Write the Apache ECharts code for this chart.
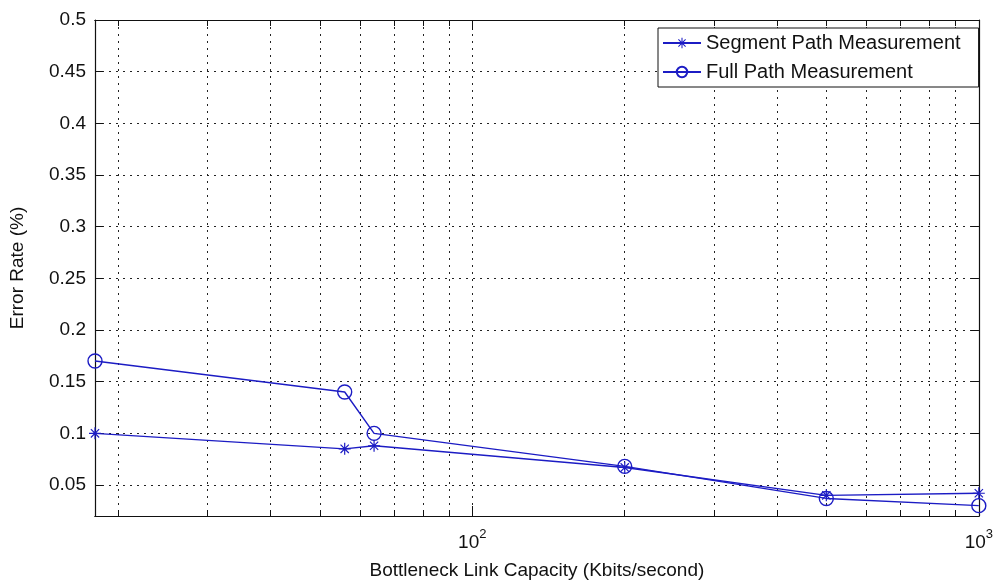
<!DOCTYPE html>
<html>
<head>
<meta charset="utf-8">
<script src="https://cdn.jsdelivr.net/npm/echarts@6/dist/echarts.min.js"></script>
<style>
  html, body { margin: 0; padding: 0; background: #fff; }
  #chart { width: 996px; height: 585px; }
</style>
</head>
<body>
<div id="chart"></div>
<script>
// Link capacities (Kbits/second) and measured error rates (%)
const capacities = [18, 56, 64, 200, 500, 1000];
const segmentPath = [0.100, 0.085, 0.088, 0.067, 0.040, 0.042];
const fullPath = [0.170, 0.140, 0.100, 0.068, 0.037, 0.030];

// Axis ticks
const xMajorTicks = [100, 1000];
const xMinorTicks = [20, 30, 40, 50, 60, 70, 80, 90, 200, 300, 400, 500, 600, 700, 800, 900];
const yTicks = [0.05, 0.1, 0.15, 0.2, 0.25, 0.3, 0.35, 0.4, 0.45, 0.5];
const yTickLabels = ['0.05', '0.1', '0.15', '0.2', '0.25', '0.3', '0.35', '0.4', '0.45', '0.5'];

const FONT = 'Liberation Sans';
const BLUE = '#1c1cc4';
const INK = '#111';
const ASTERISK = 'path://M45 0L55 0L55 100L45 100Z M0 45L100 45L100 55L0 55Z M12 19L19 12L88 81L81 88Z M81 12L88 19L19 88L12 81Z';

const gridLine = { show: true, lineStyle: { color: '#222', width: 1, type: [2, 5] } };

function xAxisDef(pos, values, tickLen, labels, grid) {
  return {
    type: 'log', logBase: 10, min: 18, max: 1000, position: pos,
    axisLine: { show: true, onZero: false, lineStyle: { color: INK, width: 1.2 } },
    axisTick: { show: true, inside: true, length: tickLen, customValues: values, lineStyle: { color: INK } },
    axisLabel: labels ? {
      show: true, customValues: values, margin: 12,
      formatter: v => '{b|10}{e|' + Math.round(Math.log10(v)) + '}',
      rich: {
        b: { fontFamily: FONT, fontSize: 19, color: INK, verticalAlign: 'bottom', lineHeight: 24 },
        e: { fontFamily: FONT, fontSize: 13, color: INK, verticalAlign: 'top', lineHeight: 24 }
      }
    } : { show: false },
    splitLine: grid ? gridLine : { show: false },
    minorTick: { show: false }, minorSplitLine: { show: false }
  };
}

function yAxisDef(pos, labels) {
  return {
    type: 'value', min: 0.02, max: 0.5, position: pos,
    axisLine: { show: true, onZero: false, lineStyle: { color: INK, width: 1.2 } },
    axisTick: { show: true, inside: true, length: 8, customValues: yTicks, lineStyle: { color: INK } },
    axisLabel: labels ? {
      show: true, customValues: yTicks, margin: 9,
      fontFamily: FONT, fontSize: 19, color: INK,
      formatter: v => yTickLabels[yTicks.findIndex(t => Math.abs(t - v) < 1e-9)] || ''
    } : { show: false },
    splitLine: labels ? gridLine : { show: false }
  };
}

const chart = echarts.init(document.getElementById('chart'), null, { renderer: 'canvas' });

const xBottomMajor = xAxisDef('bottom', xMajorTicks, 10, true, true);
xBottomMajor.name = 'Bottleneck Link Capacity (Kbits/second)';
xBottomMajor.nameLocation = 'middle';
xBottomMajor.nameGap = 45;
xBottomMajor.nameTextStyle = { fontFamily: FONT, fontSize: 19, color: INK };

const yLeft = yAxisDef('left', true);
yLeft.name = 'Error Rate (%)';
yLeft.nameLocation = 'middle';
yLeft.nameGap = 68;
yLeft.nameTextStyle = { fontFamily: FONT, fontSize: 19, color: INK };

chart.setOption({
  animation: false,
  backgroundColor: '#fff',
  grid: { left: 90, right: 11, top: 20, bottom: 65, containLabel: false },
  xAxis: [
    xBottomMajor,
    xAxisDef('bottom', xMinorTicks, 6, false, true),
    xAxisDef('top', xMajorTicks, 10, false, false),
    xAxisDef('top', xMinorTicks, 6, false, false)
  ],
  yAxis: [yLeft, yAxisDef('right', false)],
  legend: {
    orient: 'vertical', left: 658, top: 28,
    backgroundColor: '#fff', borderColor: INK, borderWidth: 1,
    padding: [5, 18, 5, 4], itemGap: 9, itemWidth: 38, itemHeight: 13,
    textStyle: { fontFamily: FONT, fontSize: 20, color: INK },
    data: ['Segment Path Measurement', 'Full Path Measurement']
  },
  series: [
    {
      name: 'Segment Path Measurement', type: 'line',
      data: capacities.map((c, i) => [c, segmentPath[i]]),
      symbol: ASTERISK, symbolSize: 12,
      lineStyle: { color: BLUE, width: 1.4 },
      itemStyle: { color: BLUE, borderWidth: 0 },
      z: 3
    },
    {
      name: 'Full Path Measurement', type: 'line',
      data: capacities.map((c, i) => [c, fullPath[i]]),
      symbol: 'circle', symbolSize: 14,
      lineStyle: { color: BLUE, width: 1.4 },
      itemStyle: { color: 'rgba(255,255,255,0)', borderColor: BLUE, borderWidth: 1.4 },
      z: 3
    }
  ]
});
</script>
</body>
</html>
